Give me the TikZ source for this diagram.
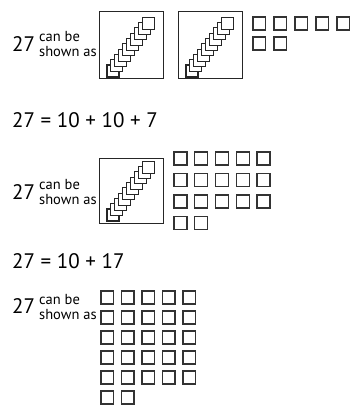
\documentclass[tikz,border=0pt]{standalone}
\usepackage{fontspec}
\setmainfont{PT Sans}

\tikzset{
  big/.style={font=\fontsize{21}{24}\selectfont, inner sep=0pt, anchor=base west},
  small/.style={font=\fontsize{14.5}{15}\selectfont, inner sep=0pt, anchor=base west},
  tenframe/.style={draw=black!85, line width=1pt},
  flat/.style={draw=black!85, fill=white, line width=1.1pt},
  unit/.style={draw=black!80, line width=1.3pt}
}

\begin{document}
\begin{tikzpicture}[x=1pt,y=-1pt]
\useasboundingbox (0,0) rectangle (350,406);

% First row: two tens and seven ones
\node[big] (num1) at (12,52) {27};
\node[small] (can1) at (39,42) {can be};
\node[small] (shown1) at (39,57) {shown as};

\draw[tenframe] (99,12) rectangle (163,79);
\foreach \k in {0,...,9}
  \draw[flat] ({107+3.9*\k},{77-5.3*\k}) rectangle ++(12,-12);

\draw[tenframe] (178,12) rectangle (242,79);
\foreach \k in {0,...,9}
  \draw[flat] ({186+3.9*\k},{77-5.3*\k}) rectangle ++(12,-12);

\foreach \x in {253,274,295,316,337}
  \draw[unit] (\x,17) rectangle ++(12.5,13);
\foreach \x in {253,274}
  \draw[unit] (\x,37) rectangle ++(12.5,13);

% Sum
\node[big] (sum1) at (12,128) {27 = 10 + 10 + 7};

% Second row: one ten and seventeen ones
\node[big] (num2) at (12,199) {27};
\node[small] (can2) at (39,189) {can be};
\node[small] (shown2) at (39,204) {shown as};

\draw[tenframe] (99,158) rectangle (163,223);
\foreach \k in {0,...,9}
  \draw[flat] ({107+3.9*\k},{221-5.3*\k}) rectangle ++(12,-12);

\foreach \y in {152,173.5,195}
  \foreach \x in {174,194.75,215.5,236.25,257}
    \draw[unit] (\x,\y) rectangle ++(13,13);
\foreach \x in {174,194.75}
  \draw[unit] (\x,216.5) rectangle ++(13,13);

% Sum
\node[big] (sum2) at (12,268) {27 = 10 + 17};

% Third row: twenty-seven ones
\node[big] (num3) at (12,313) {27};
\node[small] (can3) at (39,304) {can be};
\node[small] (shown3) at (39,319) {shown as};

\foreach \y in {291,311,331,351,371}
  \foreach \x in {101,121.5,142,162.5,183}
    \draw[unit] (\x,\y) rectangle ++(12.5,13);
\foreach \x in {101,121.5}
  \draw[unit] (\x,391) rectangle ++(12.5,13);

\end{tikzpicture}
\end{document}
